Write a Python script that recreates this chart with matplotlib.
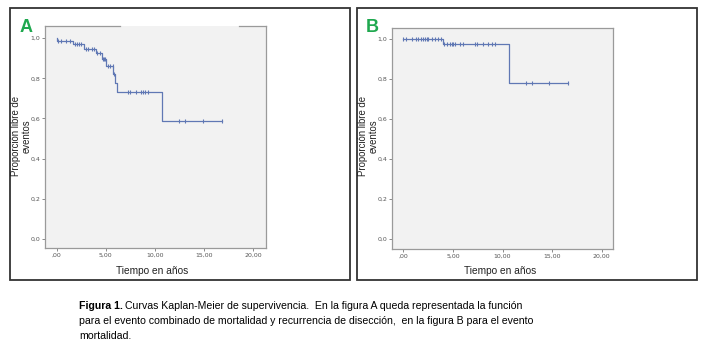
import numpy as np
import matplotlib
matplotlib.use('Agg')
import matplotlib.pyplot as plt
from matplotlib.patches import Rectangle

# Kaplan-Meier data
# panel A: combined event (mortality + recurrence)
a_event_t = [0.07, 1.70, 2.81, 4.00, 4.62, 5.02, 5.77, 5.97, 6.11, 10.69]
a_surv = [1.0, 0.986, 0.970, 0.948, 0.925, 0.895, 0.862, 0.822, 0.778, 0.733, 0.588]
a_censor = [0.16, 0.44, 0.95, 1.39, 1.86, 2.10, 2.27, 2.48, 2.98, 3.22, 3.56, 3.83,
            4.14, 4.41, 4.70, 4.80, 4.90, 5.19, 5.43, 5.70, 5.87, 7.22, 7.42, 8.06,
            8.56, 8.80, 9.02, 9.30, 12.42, 13.08, 14.87, 16.80]

# panel B: mortality
b_event_t = [3.97, 10.65]
b_surv = [1.0, 0.975, 0.78]
b_censor = [0.0, 0.27, 0.85, 1.28, 1.51, 1.75, 2.02, 2.19, 2.36, 2.52, 2.86, 3.19,
            3.53, 3.77, 4.10, 4.37, 4.71, 4.88, 5.04, 5.21, 5.72, 5.99, 7.23, 7.40,
            8.06, 8.57, 8.91, 9.24, 12.34, 13.00, 14.72, 16.63]

xticks = [0, 5, 10, 15, 20]
xtick_labels = [',00', '5,00', '10,00', '15,00', '20,00']
yticks = [0, 0.2, 0.4, 0.6, 0.8, 1.0]
ytick_labels = ['0,0', '0,2', '0,4', '0,6', '0,8', '1,0']

line_col = '#6078b4'
font = 'Liberation Sans'

fig = plt.figure(figsize=(7.11, 3.63), dpi=100)
fig.patch.set_facecolor('white')


def km_panel(rect, ev_t, surv, cens, xlim, ylim, top_parts):
    ax = fig.add_axes(rect)
    ax.set_facecolor('#f2f2f2')
    xs = [0] + list(ev_t) + [max(cens)]
    ys = list(surv) + [surv[-1]]
    ax.step(xs, ys, where='post', color=line_col, lw=0.9)
    idx = np.searchsorted(ev_t, cens, side='right')
    cy = np.array(surv)[idx]
    ax.plot(cens, cy, ls='none', marker='|', ms=3.5, mew=0.8, color=line_col)
    ax.set_xlim(*xlim)
    ax.set_ylim(*ylim)
    ax.set_xticks(xticks)
    ax.set_xticklabels(xtick_labels)
    ax.set_yticks(yticks)
    ax.set_yticklabels(ytick_labels)
    ax.tick_params(length=2.2, width=0.6, colors='#777777', labelsize=4.5,
                   pad=1.2, labelcolor='#555555')
    for s in ['left', 'bottom', 'right']:
        ax.spines[s].set_color('#9a9a9a')
        ax.spines[s].set_linewidth(0.9)
    ax.spines['top'].set_visible(False)
    # SPSS export leaves the top border only partly drawn
    for a0, a1 in top_parts:
        ax.plot([a0, a1], [1, 1], transform=ax.transAxes, color='#9a9a9a',
                lw=0.9, clip_on=False)
    return ax


W, H = 711.0, 363.0
axA = km_panel([45 / W, 1 - 248 / H, 220.5 / W, 222 / H],
               a_event_t, a_surv, a_censor, (-1.19, 21.27), (-0.046, 1.061),
               [(0, 0.34), (0.88, 1)])
axB = km_panel([392.3 / W, 1 - 249 / H, 220.4 / W, 221.3 / H],
               b_event_t, b_surv, b_censor, (-1.11, 21.11), (-0.052, 1.055),
               [(0, 1)])

# outer frames
for x0 in [10, 357]:
    fig.patches.append(Rectangle((x0 / W, 1 - 280 / H), 340 / W, 272 / H,
                                 transform=fig.transFigure, fill=False,
                                 ec='#333333', lw=1.3))

# panel letters
fig.text(20 / W, 1 - 27 / H, 'A', color='#1fa84f', fontsize=13, fontweight='bold',
         family=font, va='center', ha='left')
fig.text(366 / W, 1 - 27 / H, 'B', color='#1fa84f', fontsize=13, fontweight='bold',
         family=font, va='center', ha='left')

# axis labels
for cx, lx in [(16, 152.5), (363, 500)]:
    fig.text(cx / W, 1 - 136 / H, 'Proporción libre de', rotation=90,
             fontsize=6.9, family=font, va='center', ha='center', color='#222222')
    fig.text((cx + 10.5) / W, 1 - 136 / H, 'eventos', rotation=90,
             fontsize=6.9, family=font, va='center', ha='center', color='#222222')
    fig.text(lx / W, 1 - 270.5 / H, 'Tiempo en años', fontsize=7.3, family=font,
             va='center', ha='center', color='#222222')

# caption
cap_x = 79 / W
t = fig.text(cap_x, 1 - 306 / H, 'Figura 1.', fontsize=7.6, fontweight='bold',
             family=font, va='center', ha='left')
fig.canvas.draw()
bb = t.get_window_extent()
fig.text((bb.x1 + 2) / W, 1 - 306 / H,
         'Curvas Kaplan-Meier de supervivencia.  En la figura A queda representada la función',
         fontsize=7.6, family=font, va='center', ha='left')
fig.text(cap_x, 1 - 321 / H,
         'para el evento combinado de mortalidad y recurrencia de disección,  en la figura B para el evento',
         fontsize=7.6, family=font, va='center', ha='left')
fig.text(cap_x, 1 - 336 / H, 'mortalidad.', fontsize=7.6, family=font,
         va='center', ha='left')

fig.savefig('out.png', dpi=100)
